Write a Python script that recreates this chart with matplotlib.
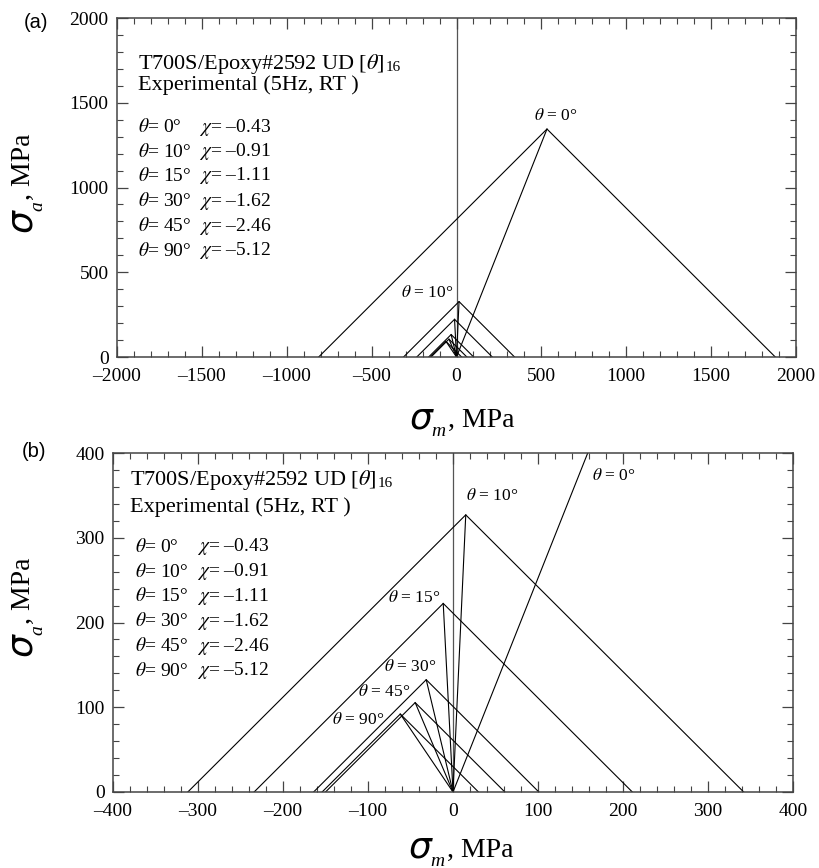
import matplotlib
matplotlib.use('Agg')
import matplotlib.pyplot as plt
from matplotlib.ticker import MultipleLocator, FuncFormatter

plt.rcParams['font.family'] = ['Liberation Serif', 'DejaVu Serif']
plt.rcParams['mathtext.fontset'] = 'stix'

# fibre angle, critical stress ratio and static strengths (MPa)
theta   = [0, 10, 15, 30, 45, 90]
chi     = [-0.43, -0.91, -1.11, -1.62, -2.46, -5.12]
sigma_t = [1878, 342, 211, 101, 61, 30]     # tensile strength
sigma_c = [812, 312, 234, 164, 150, 154]    # compressive strength (magnitude)

# where the theta tags sit (sigma_m, sigma_a) in each panel
tags_a = {0: (586, 1420), 10: (-170, 378)}
tags_b = {0: (189, 373), 10: (46, 349), 15: (-46, 229),
          30: (-50, 148), 45: (-81, 118), 90: (-111, 85)}

W, H = 819, 868
fig = plt.figure(figsize=(W / 100, H / 100), dpi=100)


def px(x, y):
    return x / W, 1 - y / H


def dash_fmt(v, pos):
    return f'{v:.0f}'.replace('-', '\u2013')


def draw_panel(ax, xlim, ylim, xmaj, xmin, ymaj, ymin, tags):
    ax.axvline(0, color='#555555', lw=0.9, zorder=1)
    for i in range(len(theta)):
        t, c = sigma_t[i], sigma_c[i]
        # apex of the triangle: intersection of the two 45 degree lines
        am, aa = (t - c) / 2, (t + c) / 2
        ax.plot([-c, am, t], [0, aa, 0], color='black', lw=0.8, clip_on=True)
        ax.plot([0, am], [0, aa], color='black', lw=0.8, clip_on=True)
    for th, (x, y) in tags.items():
        ax.text(x, y, rf'$\theta$ = {th}°', fontsize=12.5, ha='center', va='center')

    ax.set_xlim(*xlim)
    ax.set_ylim(*ylim)
    ax.xaxis.set_major_locator(MultipleLocator(xmaj))
    ax.xaxis.set_minor_locator(MultipleLocator(xmin))
    ax.yaxis.set_major_locator(MultipleLocator(ymaj))
    ax.yaxis.set_minor_locator(MultipleLocator(ymin))
    ax.xaxis.set_major_formatter(FuncFormatter(dash_fmt))
    ax.yaxis.set_major_formatter(FuncFormatter(dash_fmt))
    ax.tick_params(which='both', direction='in', top=True, right=True,
                   colors='#444444', labelcolor='black', labelsize=14)
    ax.tick_params(which='major', length=8, width=0.9)
    ax.tick_params(axis='x', which='major', pad=8)
    ax.tick_params(axis='y', which='major', pad=6)
    ax.tick_params(which='minor', length=4.5, width=0.8)
    for s in ax.spines.values():
        s.set_color('#444444')
        s.set_linewidth(1.1)


def header(ax, x0, y_head, x_rows, x_chi, y_rows):
    t = ax.text(x0, y_head[0], r'T700S/Epoxy#2592 UD [$\theta$]', fontsize=16,
                transform=ax.transAxes, va='center')
    ax.annotate('16', xy=(1, 0), xycoords=t, xytext=(1, 1.5),
                textcoords='offset points', fontsize=11, va='bottom')
    ax.text(x0, y_head[1], 'Experimental (5Hz, RT )', fontsize=16,
            transform=ax.transAxes, va='center')
    for th, ch, y in zip(theta, chi, y_rows):
        ax.text(x_rows, y, rf'$\theta$= {th}°', fontsize=14,
                transform=ax.transAxes, va='center')
        ax.text(x_chi, y, rf'$\chi$= {ch:.2f}'.replace('-', '\u2013'), fontsize=14,
                transform=ax.transAxes, va='center')


def x_label(y0, dx):
    # big sigma, subscript m, then the unit
    fig.text(*px(421 + dx, y0), '\u03c3', family='DejaVu Sans', style='italic',
             fontsize=26, ha='center', va='center')
    fig.text(*px(438 + dx, y0 + 13), 'm', style='italic', fontsize=14,
             ha='center', va='center')
    fig.text(*px(448 + dx, y0 + 9), ', MPa', fontsize=20, ha='left', va='baseline')


def y_label(y0):
    # same pieces, rotated; y0 is the centre of the sigma
    fig.text(*px(21, y0), '\u03c3', family='DejaVu Sans', style='italic',
             fontsize=26, ha='center', va='center', rotation=90)
    fig.text(*px(38, y0 - 15), 'a', style='italic', fontsize=14,
             ha='center', va='center', rotation=90)
    fig.text(*px(23, y0 - 54), ', MPa', fontsize=20, ha='center', va='center',
             rotation=90)


# panel (a): full range
ax_a = fig.add_axes([117 / W, 1 - 357 / H, 679 / W, 339 / H])
draw_panel(ax_a, (-2000, 2000), (0, 2000), 500, 100, 500, 100, tags_a)
header(ax_a, 0.031, (0.864, 0.802), 0.031, 0.121,
       [0.678, 0.605, 0.534, 0.460, 0.386, 0.313])
x_label(418, 0)
y_label(221)
fig.text(*px(36, 22), '(a)', family='Liberation Sans', fontsize=14.5,
         ha='center', va='center')

# panel (b): close-up of the low stress region
ax_b = fig.add_axes([113 / W, 1 - 792 / H, 680 / W, 339 / H])
draw_panel(ax_b, (-400, 400), (0, 400), 100, 20, 100, 20, tags_b)
header(ax_b, 0.025, (0.920, 0.840), 0.032, 0.124,
       [0.724, 0.650, 0.578, 0.504, 0.430, 0.357])
x_label(848, -1)
y_label(645)
fig.text(*px(34, 452), '(b)', family='Liberation Sans', fontsize=14.5,
         ha='center', va='center')

fig.savefig('out.png', dpi=100, facecolor='white')
